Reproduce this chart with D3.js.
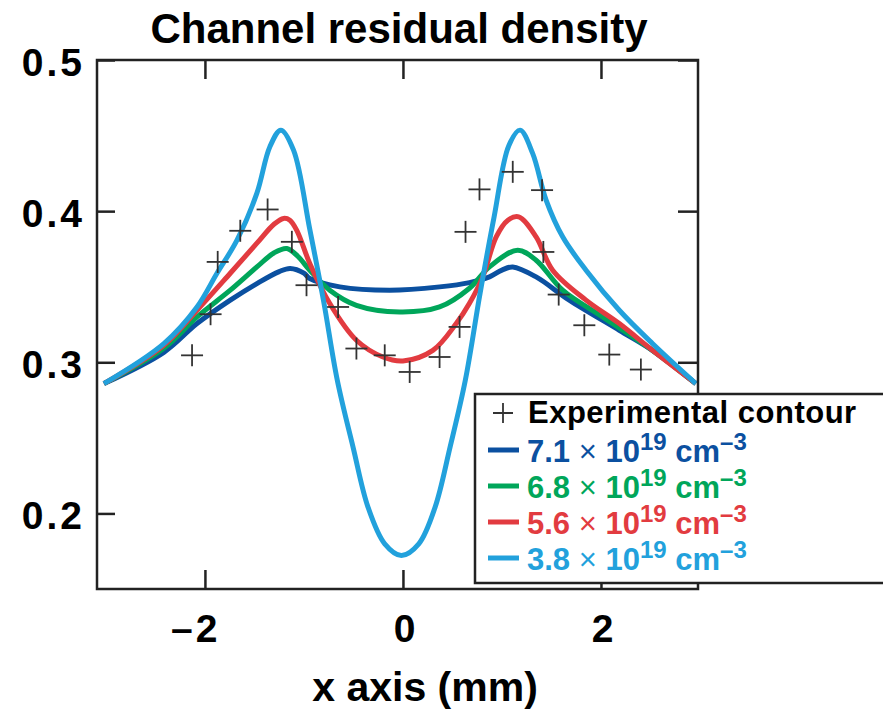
<!DOCTYPE html>
<html>
<head>
<meta charset="utf-8">
<script src="https://cdn.jsdelivr.net/npm/d3@7"></script>
<style>
  body { margin: 0; background: #fff; }
  text { font-family: "Liberation Sans", Arial, sans-serif; font-weight: bold; }
</style>
</head>
<body>
<svg width="883" height="714"></svg>
<script>

// tick values
let xTicks = [-2, 0, 2];
let yTicks = [0.2, 0.3, 0.4, 0.5];

// simulated profiles, [x (mm), density]
let dens71 = [[-3.02,0.2859],[-2.415,0.3066],[-2.08,0.3256],[-1.744,0.3411],[-1.475,0.3521],[-1.25,0.3600],[-1.139,0.3621],
    [-1.0,0.3590],[-0.941,0.3554],[-0.638,0.3499],[-0.134,0.3477],[0.370,0.3499],[0.672,0.3527],[0.874,0.3565],
    [1.0,0.3610],[1.109,0.3631],[1.345,0.3565],[1.680,0.3411],[2.185,0.3212],[2.52,0.3079],[2.958,0.2859]];

let dens68 = [[-3.02,0.2859],[-2.415,0.3093],[-2.08,0.3300],[-1.744,0.3477],[-1.475,0.3631],[-1.3,0.3725],[-1.172,0.3753],
    [-1.06,0.3700],[-0.941,0.3609],[-0.739,0.3477],[-0.470,0.3377],[-0.033,0.3333],[0.370,0.3366],[0.672,0.3490],
    [0.874,0.3631],[1.159,0.3742],[1.345,0.3675],[1.613,0.3477],[2.016,0.3300],[2.52,0.3079],[2.958,0.2859]];

let dens56 = [[-3.02,0.2859],[-2.415,0.3113],[-2.08,0.3344],[-1.744,0.3589],[-1.475,0.3788],[-1.3,0.3915],[-1.206,0.3952],
    [-1.142,0.3940],[-1.07,0.3870],[-0.941,0.3654],[-0.739,0.3389],[-0.470,0.3146],[-0.202,0.3035],[0,0.3009],
    [0.302,0.3079],[0.538,0.3256],[0.672,0.3390],[0.806,0.3565],[0.942,0.3830],[1.06,0.3940],[1.169,0.3962],
    [1.345,0.3830],[1.512,0.3609],[1.849,0.3411],[2.185,0.3256],[2.52,0.3079],[2.958,0.2859]];

let dens38 = [[-3.02,0.2859],[-2.415,0.3124],[-2.08,0.3366],[-1.878,0.3589],[-1.676,0.3808],[-1.475,0.4119],[-1.344,0.4426],
    [-1.233,0.4536],[-1.105,0.4404],[-0.941,0.3880],[-0.800,0.3400],[-0.663,0.2881],[-0.504,0.2439],[-0.353,0.2042],
    [-0.184,0.1799],[-0.016,0.1722],[0.160,0.1799],[0.325,0.2042],[0.476,0.2439],[0.630,0.2881],[0.780,0.3460],
    [0.920,0.3960],[1.070,0.4435],[1.183,0.4536],[1.310,0.4382],[1.446,0.4073],[1.613,0.3830],[1.849,0.3609],
    [2.185,0.3344],[2.520,0.3124],[2.958,0.2859]];

// measured contour
let experimental = [[-2.13,0.3046],[-1.943,0.3318],[-1.871,0.3664],[-1.643,0.3870],[-1.367,0.4011],[-1.122,0.3797],
    [-0.974,0.3510],[-0.655,0.3366],[-0.470,0.3091],[-0.184,0.3046],[0.068,0.2936],[0.370,0.3035],[0.572,0.3234],
    [0.632,0.3863],[0.773,0.4144],[1.109,0.4260],[1.405,0.4139],[1.418,0.3730],[1.573,0.3448],[1.832,0.3245],
    [2.084,0.3051],[2.403,0.2952]];

let seriesData = [dens71, dens68, dens56, dens38];
let seriesMant = ['7.1', '6.8', '5.6', '3.8'];
let seriesColors = ['#0b50a0', '#00a65a', '#e23b40', '#22a1dc'];


let svg = d3.select('svg');

let x = d3.scaleLinear().domain([-3.09, 2.98]).range([97, 698]);
let y = d3.scaleLinear().domain([0.15, 0.5]).range([589, 60]);

let ink = '#222';

// title
svg.append('text')
    .attr('x', 399).attr('y', 43)
    .attr('text-anchor', 'middle')
    .style('font-size', '42px')
    .text('Channel residual density');

// curves
let line = d3.line()
    .x(d => x(d[0]))
    .y(d => y(d[1]))
    .curve(d3.curveCatmullRom.alpha(0.5));

svg.append('g').selectAll('path')
    .data(seriesData)
    .enter().append('path')
    .attr('d', line)
    .attr('fill', 'none')
    .attr('stroke', (d, i) => seriesColors[i])
    .attr('stroke-width', 5)
    .attr('stroke-linejoin', 'round');

// crosses
let cs = 11;
let cross = svg.append('g').selectAll('g')
    .data(experimental)
    .enter().append('g')
    .attr('transform', d => 'translate(' + x(d[0]) + ',' + y(d[1]) + ')')
    .attr('stroke', '#333')
    .attr('stroke-width', 1.8);
cross.append('line').attr('x1', -cs).attr('x2', cs);
cross.append('line').attr('y1', -cs).attr('y2', cs);

// frame
svg.append('rect')
    .attr('x', x(-3.09)).attr('y', y(0.5))
    .attr('width', x(2.98) - x(-3.09)).attr('height', y(0.15) - y(0.5))
    .attr('fill', 'none').attr('stroke', ink).attr('stroke-width', 2.5);

function styleAxis(g) {
    g.select('.domain').remove();
    g.selectAll('line').attr('stroke', ink).attr('stroke-width', 2.5);
    g.selectAll('text').attr('fill', '#000');
}

svg.append('g')
    .attr('transform', 'translate(0,' + y(0.15) + ')')
    .call(d3.axisBottom(x).tickValues(xTicks).tickSize(-19)
        .tickFormat(d => d < 0 ? '\u2013' + (-d) : d))
    .call(styleAxis)
    .call(g => g.selectAll('text')
        .attr('dy', null).attr('y', 53).attr('x', 15)
        .attr('text-anchor', 'end')
        .style('letter-spacing', '3px')
        .style('font-size', '39px'));

svg.append('g')
    .attr('transform', 'translate(0,' + y(0.5) + ')')
    .call(d3.axisTop(x).tickValues(xTicks).tickSize(-19).tickFormat(''))
    .call(styleAxis);

svg.append('g')
    .attr('transform', 'translate(' + x(-3.09) + ',0)')
    .call(d3.axisLeft(y).tickValues(yTicks).tickSize(-18).tickFormat(d3.format('.1f')))
    .call(styleAxis)
    .call(g => g.selectAll('text')
        .attr('dy', null).attr('y', 15).attr('x', -12)
        .style('letter-spacing', '3px')
        .style('font-size', '39px'));

svg.append('g')
    .attr('transform', 'translate(' + x(2.98) + ',0)')
    .call(d3.axisRight(y).tickValues(yTicks).tickSize(-20).tickFormat(''))
    .call(styleAxis);

// x axis title
svg.append('text')
    .attr('x', 425).attr('y', 701)
    .attr('text-anchor', 'middle')
    .style('font-size', '41px')
    .text('x axis (mm)');

// legend
let leg = svg.append('g');
leg.append('rect')
    .attr('x', 475).attr('y', 394).attr('width', 420).attr('height', 189)
    .attr('fill', '#fff').attr('stroke', ink).attr('stroke-width', 2.5);

leg.append('path')
    .attr('d', 'M493,413h20M503,403v20')
    .attr('stroke', '#333').attr('stroke-width', 1.8);
leg.append('text')
    .attr('x', 528).attr('y', 423)
    .style('font-size', '31px')
    .style('letter-spacing', '0.5px')
    .text('Experimental contour');

let rowY = [450, 486, 522, 558];
let row = leg.selectAll('g.row')
    .data(seriesMant)
    .enter().append('g')
    .attr('class', 'row')
    .attr('transform', (d, i) => 'translate(0,' + rowY[i] + ')');

row.append('line')
    .attr('x1', 488).attr('x2', 519)
    .attr('stroke', (d, i) => seriesColors[i])
    .attr('stroke-width', 5);

let lt = row.append('text')
    .attr('x', 527).attr('y', 12)
    .attr('fill', (d, i) => seriesColors[i])
    .style('font-size', '31px');
lt.append('tspan').text(d => d + ' ');
lt.append('tspan').style('font-weight', 'normal').text('\u00d7');
lt.append('tspan').text(' 10');
lt.append('tspan').attr('dy', -12).style('font-size', '24px').text('19');
lt.append('tspan').attr('dy', 12).text(' cm');
lt.append('tspan').attr('dy', -12).style('font-size', '24px').text('\u20133');

</script>
</body>
</html>
